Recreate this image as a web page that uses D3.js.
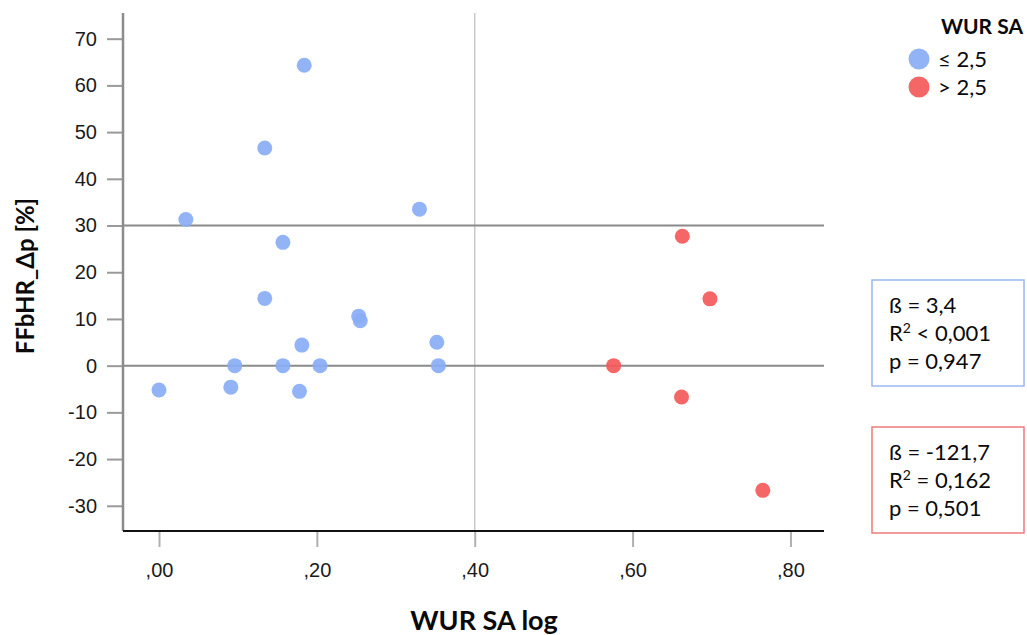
<!DOCTYPE html>
<html>
<head>
<meta charset="utf-8">
<script src="https://cdn.jsdelivr.net/npm/d3@7"></script>
<style>
  body { margin: 0; background: #fff; }
  svg { display: block; }
  .tick text { font-family: "Liberation Sans", Arial, sans-serif; font-size: 20px; fill: #1a1a1a; }
  .lbl { font-family: Lato, "Open Sans", sans-serif; fill: #0a0a0a; }
</style>
</head>
<body>
<div id="chart"></div>
<script>
// data
var lowX  = [0.000, 0.034, 0.184, 0.134, 0.157, 0.134, 0.330, 0.253, 0.255, 0.096, 0.091, 0.157, 0.181, 0.178, 0.204, 0.352, 0.354];
var lowY  = [-5.2, 31.3, 64.3, 46.6, 26.4, 14.4, 33.5, 10.6, 9.6, 0.0, -4.6, 0.0, 4.4, -5.5, 0.0, 5.0, 0.0];
var highX = [0.663, 0.698, 0.576, 0.662, 0.765];
var highY = [27.7, 14.3, 0.0, -6.7, -26.7];

var xTicks = [0, 0.2, 0.4, 0.6, 0.8];
var yTicks = [-30, -20, -10, 0, 10, 20, 30, 40, 50, 60, 70];
var refY = [0, 30];
var refX = [0.4];

var groups = ["≤ 2,5", "> 2,5"];
var statsLow  = [["ß = 3,4"], ["R", "2", " < 0,001"], ["p = 0,947"]];
var statsHigh = [["ß = -121,7"], ["R", "2", " = 0,162"], ["p = 0,501"]];

var blue = "#89aef5", red = "#f45a5a";

var w = 1027, h = 635;
var pl = 123, pr = 824, pt = 13, pb = 531;

var svg = d3.select("#chart").append("svg")
  .attr("width", w)
  .attr("height", h);

var x = d3.scaleLinear().domain([-0.0456, 0.8425]).range([pl, pr]);
var y = d3.scaleLinear().domain([-35.4, 75.5]).range([pb, pt]);

// reference lines
svg.selectAll("line.vref").data(refX).enter().append("line")
  .attr("x1", function(d) { return x(d); })
  .attr("x2", function(d) { return x(d); })
  .attr("y1", pt).attr("y2", pb)
  .attr("stroke", "#c9c9c9").attr("stroke-width", 1.5);

svg.selectAll("line.href").data(refY).enter().append("line")
  .attr("x1", pl).attr("x2", pr)
  .attr("y1", function(d) { return y(d); })
  .attr("y2", function(d) { return y(d); })
  .attr("stroke", "#8a8a8a").attr("stroke-width", 2);

// axes
var yAxis = svg.append("g")
  .attr("transform", "translate(" + pl + ",0)")
  .call(d3.axisLeft(y).tickValues(yTicks).tickSize(16).tickPadding(10)
    .tickFormat(function(d) { return String(d); }));
yAxis.select(".domain").remove();
yAxis.selectAll(".tick line").attr("stroke", "#9a9a9a").attr("stroke-width", 2);

var xAxis = svg.append("g")
  .attr("transform", "translate(0," + pb + ")")
  .call(d3.axisBottom(x).tickValues(xTicks).tickSize(16).tickPadding(16)
    .tickFormat(function(d) { return d3.format(".2f")(d).replace("0.", ","); }));
xAxis.select(".domain").remove();
xAxis.selectAll(".tick line").attr("stroke", "#b0b0b0").attr("stroke-width", 2);

svg.append("line")
  .attr("x1", pl).attr("x2", pl).attr("y1", pt).attr("y2", pb)
  .attr("stroke", "#8c8c8c").attr("stroke-width", 2.5);
svg.append("line")
  .attr("x1", pl).attr("x2", pr).attr("y1", pb).attr("y2", pb)
  .attr("stroke", "#111").attr("stroke-width", 2);

// points
var pts = lowX.map(function(d, i) { return {x: d, y: lowY[i], c: blue}; })
  .concat(highX.map(function(d, i) { return {x: d, y: highY[i], c: red}; }));

svg.selectAll("circle.pt").data(pts).enter().append("circle")
  .attr("class", "pt")
  .attr("cx", function(d) { return x(d.x); })
  .attr("cy", function(d) { return y(d.y); })
  .attr("r", 7.5)
  .attr("fill", function(d) { return d.c; })
  .attr("fill-opacity", 0.92);

// axis titles
svg.append("text").attr("class", "lbl")
  .attr("x", 484).attr("y", 630)
  .attr("text-anchor", "middle")
  .style("font-size", "27px").style("font-weight", "bold")
  .text("WUR SA log");

svg.append("text").attr("class", "lbl")
  .attr("transform", "translate(34,276) rotate(-90)")
  .attr("text-anchor", "middle")
  .style("font-size", "24px").style("font-weight", "bold")
  .text("FFbHR_Δp [%]");

// legend
svg.append("text").attr("class", "lbl")
  .attr("x", 1023).attr("y", 34)
  .attr("text-anchor", "end")
  .style("font-size", "21px").style("font-weight", "bold")
  .text("WUR SA");

var leg = svg.selectAll("g.leg").data(groups).enter().append("g")
  .attr("transform", function(d, i) { return "translate(919," + (59 + i * 28) + ")"; });
leg.append("circle").attr("r", 10.5)
  .attr("fill", function(d, i) { return i ? red : blue; })
  .attr("fill-opacity", 0.92);
leg.append("text").attr("class", "lbl")
  .attr("x", 19).attr("dy", "0.35em")
  .style("font-size", "22px")
  .text(function(d) { return d; });

// stats boxes
function statBox(lines, y0, col) {
  svg.append("rect")
    .attr("x", 872).attr("y", y0).attr("width", 152).attr("height", 106)
    .attr("fill", "none").attr("stroke", col).attr("stroke-width", 1.5);
  var t = svg.selectAll(null).data(lines).enter().append("text").attr("class", "lbl")
    .attr("x", 889)
    .attr("y", function(d, i) { return y0 + 25 + i * 28; })
    .attr("dy", "0.35em")
    .style("font-size", "22px");
  t.each(function(parts) {
    var el = d3.select(this);
    parts.forEach(function(p, k) {
      var s = el.append("tspan").text(p);
      if (parts.length > 1 && k === 1) s.attr("baseline-shift", "super").style("font-size", "14px");
    });
  });
}
statBox(statsLow, 280, "#9bb8f2");
statBox(statsHigh, 427, "#ef7a7a");
</script>
</body>
</html>
